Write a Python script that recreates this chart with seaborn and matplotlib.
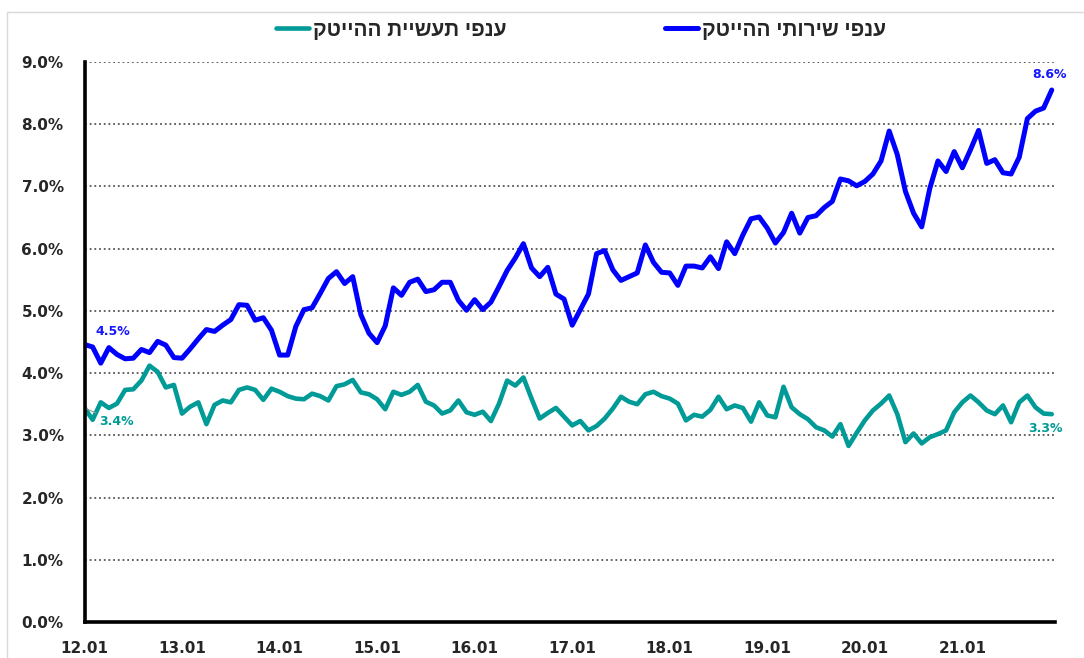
import numpy as np
import pandas as pd
import matplotlib
matplotlib.use("Agg")
import matplotlib.pyplot as plt
from matplotlib.lines import Line2D
from matplotlib.ticker import FuncFormatter
import seaborn as sns

# monthly shares, 2012.01 - 2021.12 (percent)
services = [4.46, 4.42, 4.16, 4.41, 4.30, 4.23, 4.24, 4.38, 4.33, 4.51, 4.45, 4.25,
            4.24, 4.39, 4.55, 4.70, 4.67, 4.77, 4.86, 5.10, 5.09, 4.85, 4.89, 4.69,
            4.29, 4.29, 4.75, 5.02, 5.05, 5.28, 5.52, 5.63, 5.44, 5.55, 4.94, 4.64,
            4.49, 4.76, 5.37, 5.25, 5.46, 5.51, 5.31, 5.34, 5.46, 5.46, 5.17, 5.01,
            5.18, 5.02, 5.14, 5.39, 5.65, 5.85, 6.08, 5.69, 5.55, 5.70, 5.27, 5.19,
            4.77, 5.02, 5.27, 5.92, 5.97, 5.66, 5.49, 5.55, 5.61, 6.06, 5.78, 5.62,
            5.61, 5.41, 5.72, 5.72, 5.69, 5.87, 5.68, 6.11, 5.92, 6.22, 6.48, 6.51,
            6.33, 6.09, 6.26, 6.57, 6.25, 6.50, 6.53, 6.66, 6.76, 7.12, 7.09, 7.01,
            7.08, 7.20, 7.41, 7.89, 7.51, 6.92, 6.57, 6.35, 6.97, 7.41, 7.24, 7.56,
            7.30, 7.59, 7.90, 7.37, 7.43, 7.22, 7.20, 7.47, 8.09, 8.21, 8.26, 8.55]

industry = [3.44, 3.25, 3.53, 3.44, 3.51, 3.73, 3.74, 3.88, 4.12, 4.02, 3.77, 3.81,
            3.35, 3.46, 3.53, 3.18, 3.49, 3.56, 3.53, 3.73, 3.77, 3.73, 3.57, 3.75,
            3.70, 3.63, 3.59, 3.58, 3.67, 3.63, 3.56, 3.79, 3.82, 3.89, 3.69, 3.66,
            3.58, 3.42, 3.70, 3.65, 3.70, 3.81, 3.54, 3.48, 3.35, 3.40, 3.56, 3.37,
            3.33, 3.38, 3.23, 3.51, 3.88, 3.80, 3.93, 3.59, 3.27, 3.36, 3.44, 3.30,
            3.16, 3.23, 3.08, 3.15, 3.27, 3.43, 3.62, 3.54, 3.50, 3.66, 3.70, 3.63,
            3.59, 3.51, 3.24, 3.33, 3.30, 3.41, 3.62, 3.42, 3.48, 3.44, 3.22, 3.53,
            3.32, 3.29, 3.78, 3.45, 3.34, 3.26, 3.13, 3.08, 2.98, 3.18, 2.83, 3.04,
            3.24, 3.40, 3.51, 3.64, 3.34, 2.89, 3.03, 2.87, 2.97, 3.02, 3.08, 3.37,
            3.53, 3.64, 3.53, 3.40, 3.34, 3.48, 3.21, 3.53, 3.64, 3.45, 3.35, 3.34]

tick_labels = ["12.01", "13.01", "14.01", "15.01", "16.01",
               "17.01", "18.01", "19.01", "20.01", "21.01"]

label_services = "ענפי שירותי ההייטק"
label_industry = "ענפי תעשיית ההייטק"

blue = "#0000FF"
teal = "#009A97"

df = pd.DataFrame({"month": np.arange(len(services)),
                   "services": services,
                   "industry": industry})

sns.set_theme(style="white")
plt.rcParams["font.family"] = ["DejaVu Sans"]

fig = plt.figure(figsize=(10.84, 6.58), dpi=100)
ax = fig.add_axes([84.5 / 1084, 1 - 622 / 658, (1055 - 84.5) / 1084, (622 - 62) / 658])

sns.lineplot(data=df, x="month", y="services", ax=ax, color=blue, lw=3.6,
             label=label_services[::-1])
sns.lineplot(data=df, x="month", y="industry", ax=ax, color=teal, lw=3.3,
             label=label_industry[::-1])

ax.set_xlim(0, 119.4)
ax.set_ylim(0, 9)
ax.set_yticks(np.arange(0, 10))
ax.yaxis.set_major_formatter(FuncFormatter(lambda v, p: f"{v:.1f}%"))
ax.set_xticks(np.arange(0, 120, 12))
ax.set_xticklabels(tick_labels)
ax.set_xlabel("")
ax.set_ylabel("")
ax.tick_params(axis="both", length=0, labelsize=11)
ax.tick_params(axis="y", pad=15)
ax.tick_params(axis="x", pad=14)
for lab in ax.get_xticklabels() + ax.get_yticklabels():
    lab.set_fontweight("bold")

ax.yaxis.grid(True, color="#555555", linestyle=(0, (1, 1.6)), lw=1.3)
ax.xaxis.grid(False)
for s in ["top", "right"]:
    ax.spines[s].set_visible(False)
for s in ["left", "bottom"]:
    ax.spines[s].set_color("black")
    ax.spines[s].set_linewidth(2.6)

# data labels
last = len(services) - 1
ax.annotate("4.5%", (0, services[0]), xytext=(28, 13), textcoords="offset pixels",
            ha="center", va="center", color="#1515FF", fontsize=9, fontweight="bold")
ax.annotate("3.4%", (0, industry[0]), xytext=(32, -14), textcoords="offset pixels",
            ha="center", va="center", color=teal, fontsize=9, fontweight="bold",
            arrowprops=dict(arrowstyle="-", color="#999999", lw=0.8, shrinkA=0, shrinkB=2))
ax.annotate("8.6%", (last, services[last]), xytext=(-2, 16), textcoords="offset pixels",
            ha="center", va="center", color="#1515FF", fontsize=9, fontweight="bold")
ax.annotate("3.3%", (last, industry[last]), xytext=(-6, -14), textcoords="offset pixels",
            ha="center", va="center", color=teal, fontsize=9, fontweight="bold")

# legend on top (teal left, blue right)
handles, labels = ax.get_legend_handles_labels()
ax.get_legend().remove()
fig.legend([handles[1], handles[0]], [labels[1], labels[0]], ncol=2, loc="center",
           bbox_to_anchor=(0.536, 1 - 30 / 658), frameon=False,
           prop={"family": ["Liberation Sans", "DejaVu Sans"], "weight": "bold", "size": 15},
           handlelength=1.6, handletextpad=0.2, columnspacing=7.6)

# light chart-area border
fig.add_artist(Line2D([7 / 1084, 7 / 1084], [0, 1 - 12 / 658], color="#D9D9D9", lw=1,
                      transform=fig.transFigure))
fig.add_artist(Line2D([7 / 1084, 1], [1 - 12 / 658, 1 - 12 / 658], color="#D9D9D9", lw=1,
                      transform=fig.transFigure))

fig.savefig("out.png", dpi=100)
